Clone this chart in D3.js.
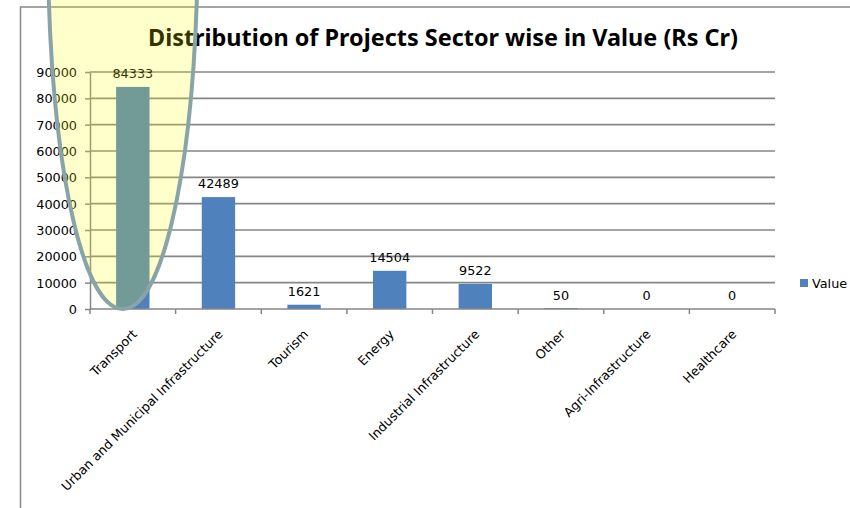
<!DOCTYPE html>
<html>
<head>
<meta charset="utf-8">
<script src="https://cdn.jsdelivr.net/npm/d3@7"></script>
<style>
  body { margin: 0; background: #fff; }
  svg { display: block; }
  .axis path, .axis line { stroke: #868686; stroke-width: 1.5; }
  .axis text { font-family: "DejaVu Sans", sans-serif; font-size: 12.8px; fill: #000; }
</style>
</head>
<body>
<div id="chart"></div>
<script>
// chart data
var categories = ["Transport", "Urban and Municipal Infrastructure", "Tourism", "Energy",
  "Industrial Infrastructure", "Other", "Agri-Infrastructure", "Healthcare"];
var values = [84333, 42489, 1621, 14504, 9522, 50, 0, 0];
var yTicks = [0, 10000, 20000, 30000, 40000, 50000, 60000, 70000, 80000, 90000];
var seriesName = "Value";
var chartTitle = "Distribution of Projects Sector wise in Value (Rs Cr)";

var svgWidth = 850;
var svgHeight = 508;

var plot = { left: 90, right: 775, top: 72, bottom: 309 };

var svg = d3.select("#chart")
  .append("svg")
  .attr("width", svgWidth)
  .attr("height", svgHeight);

// outer chart frame (cropped at right and bottom)
svg.append("rect")
  .attr("x", 20.5)
  .attr("y", 7)
  .attr("width", 900)
  .attr("height", 600)
  .attr("fill", "#fff")
  .attr("stroke", "#868686")
  .attr("stroke-width", 1.5);

var data = categories.map(function(c, i) { return { cat: c, value: values[i] }; });

// scales
var x = d3.scaleBand()
  .domain(categories)
  .range([plot.left, plot.right])
  .paddingInner(0.61)
  .paddingOuter(0.305);

var y = d3.scaleLinear()
  .domain([0, 90000])
  .range([plot.bottom, plot.top]);

// gridlines
svg.append("g")
  .selectAll("line")
  .data(yTicks.slice(1))
  .enter()
  .append("line")
  .attr("x1", plot.left)
  .attr("x2", plot.right)
  .attr("y1", d => y(d))
  .attr("y2", d => y(d))
  .attr("stroke", "#868686")
  .attr("stroke-width", 1.6);

// y axis
var leftAxis = d3.axisLeft(y)
  .tickValues(yTicks)
  .tickFormat(d3.format("d"))
  .tickSizeInner(5)
  .tickSizeOuter(0)
  .tickPadding(8);

svg.append("g")
  .attr("class", "axis")
  .attr("transform", `translate(${plot.left}, 0)`)
  .call(leftAxis)
  .selectAll("text")
  .attr("dy", "0.36em");

// bars
svg.append("g")
  .selectAll("rect")
  .data(data)
  .enter()
  .append("rect")
  .attr("x", d => x(d.cat))
  .attr("width", x.bandwidth())
  .attr("y", d => d.value > 0 ? Math.min(y(d.value), y(0) - 1) : y(0))
  .attr("height", d => d.value > 0 ? Math.max(y(0) - y(d.value), 1) : 0)
  .attr("fill", "#4F81BD");

// x axis: ticks at category boundaries
var step = x.step();
var bounds = categories.map(c => x(c) - x.paddingInner() * step / 2).concat([plot.right]);
var xAxisG = svg.append("g").attr("class", "axis");
xAxisG.append("line")
  .attr("x1", plot.left)
  .attr("x2", plot.right)
  .attr("y1", y(0))
  .attr("y2", y(0));
xAxisG.selectAll(".tick")
  .data(bounds)
  .enter()
  .append("line")
  .attr("x1", d => d)
  .attr("x2", d => d)
  .attr("y1", y(0))
  .attr("y2", y(0) + 5);

// category labels, rotated
svg.append("g")
  .selectAll("text")
  .data(data)
  .enter()
  .append("text")
  .attr("transform", d => `translate(${x(d.cat) + x.bandwidth() / 2 + 5}, ${y(0) + 26}) rotate(-45)`)
  .attr("text-anchor", "end")
  .attr("font-family", "DejaVu Sans, sans-serif")
  .attr("font-size", "12.7px")
  .attr("fill", "#000")
  .text(d => d.cat);

// data labels
svg.append("g")
  .selectAll("text")
  .data(data)
  .enter()
  .append("text")
  .attr("x", d => x(d.cat) + x.bandwidth() / 2)
  .attr("y", d => y(d.value) - 9)
  .attr("text-anchor", "middle")
  .attr("font-family", "DejaVu Sans, sans-serif")
  .attr("font-size", "12.8px")
  .attr("fill", "#000")
  .text(d => d.value);

// title
svg.append("text")
  .attr("x", 443)
  .attr("y", 46)
  .attr("text-anchor", "middle")
  .attr("font-family", "Noto Sans, sans-serif")
  .attr("font-weight", "bold")
  .attr("font-size", "23px")
  .attr("textLength", 590)
  .attr("lengthAdjust", "spacingAndGlyphs")
  .attr("fill", "#000")
  .text(chartTitle);

// legend
var legend = svg.append("g").attr("transform", "translate(800, 279)");
legend.append("rect")
  .attr("width", 8)
  .attr("height", 8)
  .attr("fill", "#4F81BD");
legend.append("text")
  .attr("x", 12)
  .attr("y", 9)
  .attr("font-family", "DejaVu Sans, sans-serif")
  .attr("font-size", "12.8px")
  .attr("fill", "#000")
  .text(seriesName);

// highlight shape drawn over the Transport bar
var bx = x("Transport") + x.bandwidth() / 2 - 10;
var by = y(0);
var p = d3.path();
p.moveTo(bx - 75, by - 345);
p.lineTo(bx - 74, by - 308);
p.bezierCurveTo(bx - 68, by - 128, bx - 38, by, bx, by);
p.bezierCurveTo(bx + 38, by, bx + 68, by - 128, bx + 74, by - 308);
p.lineTo(bx + 75, by - 345);
svg.append("path")
  .attr("d", p.toString())
  .attr("fill", "rgba(255,255,0,0.2)")
  .attr("stroke", "#88A4A8")
  .attr("stroke-width", 4);
</script>
</body>
</html>
